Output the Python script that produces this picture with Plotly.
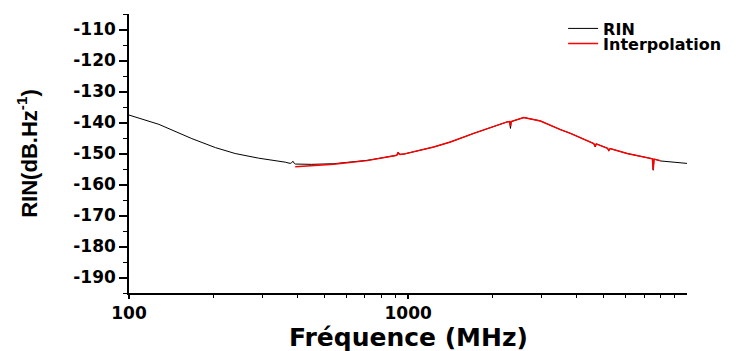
import plotly.graph_objects as go

# Measured RIN (black)
rin_freq = [100, 128, 168, 204, 240, 291, 363, 378, 383, 387, 391, 394, 450, 541, 713,
            888, 910, 920, 935, 964, 1235, 1417, 1718, 2263, 2310, 2326, 2340, 2596,
            2979, 3513, 3815, 4624, 4680, 4720, 5180, 5234, 5290, 6090, 7380, 7500,
            7550, 7600, 8017, 9670, 9990]
rin_val = [-137.6, -140.6, -145.2, -148.1, -150.0, -151.5, -152.8, -153.2, -152.9, -152.5,
           -153.2, -153.4, -153.5, -153.3, -152.2, -150.9, -150.6, -149.6, -150.3, -150.2,
           -147.9, -146.3, -143.5, -139.8, -139.7, -141.9, -139.7, -138.4, -139.5, -142.3,
           -143.5, -146.8, -147.9, -146.9, -148.3, -149.2, -148.4, -150.0, -151.6, -151.7,
           -155.4, -151.8, -152.4, -153.2, -153.2]

# Interpolation (red)
interp_freq = [394, 450, 541, 713, 888, 910, 920, 935, 964, 1235, 1417, 1718, 2263, 2310,
               2326, 2340, 2596, 2979, 3513, 3815, 4624, 4680, 4720, 5180, 5234, 5290,
               6090, 7380, 7500, 7550, 7600, 8017]
interp_val = [-154.3, -154.0, -153.5, -152.3, -150.9, -150.6, -149.8, -150.3, -150.2,
              -147.9, -146.3, -143.5, -139.8, -139.7, -141.2, -139.7, -138.4, -139.5,
              -142.3, -143.5, -146.8, -147.7, -146.9, -148.3, -149.0, -148.4, -150.0,
              -151.6, -151.7, -155.2, -151.8, -152.3]

x_major = [100, 1000]
x_minor = [200, 300, 400, 500, 600, 700, 800, 900,
           2000, 3000, 4000, 5000, 6000, 7000, 8000, 9000]
y_ticks = [-110, -120, -130, -140, -150, -160, -170, -180, -190]
x_title = "Fréquence (MHz)"
y_title = "RIN(dB.Hz<sup>-1</sup>)"

HFONT = "DejaVu Sans"

fig = go.Figure()
fig.add_trace(go.Scatter(x=rin_freq, y=rin_val, mode="lines", name="RIN",
                         line=dict(color="black", width=1), legend="legend"))
fig.add_trace(go.Scatter(x=interp_freq, y=interp_val, mode="lines", name="Interpolation",
                         line=dict(color="#ff0000", width=1.5), legend="legend2"))

legend_common = dict(font=dict(family=HFONT, size=16, color="black", weight="bold"),
                     bgcolor="rgba(0,0,0,0)", borderwidth=0,
                     xanchor="left", yanchor="middle", itemwidth=30)

fig.update_layout(
    width=741, height=343,
    margin=dict(l=121, r=62, t=6, b=58, autoexpand=False),
    paper_bgcolor="white", plot_bgcolor="white",
    showlegend=True,
    legend=dict(x=0.778, y=0.948, **legend_common),
    legend2=dict(x=0.778, y=0.894, **legend_common),
    xaxis=dict(
        type="log", range=[2, 3.999], automargin=False,
        tickmode="array", tickvals=x_major, ticktext=[str(v) for v in x_major],
        ticks="outside", ticklen=4, tickwidth=1.5, tickcolor="black",
        minor=dict(tickmode="array", tickvals=x_minor, ticks="outside",
                   ticklen=3, tickwidth=1, tickcolor="black", showgrid=False),
        showline=True, linecolor="black", linewidth=1.5,
        showgrid=False, zeroline=False,
        tickfont=dict(family=HFONT, size=17, color="black", weight="bold"),
    ),
    yaxis=dict(
        range=[-195, -105], automargin=False,
        tickmode="array", tickvals=y_ticks, ticktext=[str(v) for v in y_ticks],
        ticks="outside", ticklen=8, tickwidth=1.5, tickcolor="black",
        minor=dict(dtick=5, tick0=-105, ticks="outside", ticklen=4, tickwidth=1,
                   tickcolor="black", showgrid=False),
        showline=True, linecolor="black", linewidth=1.5,
        showgrid=False, zeroline=False,
        tickfont=dict(family=HFONT, size=17, color="black", weight="bold"),
        title=dict(text=y_title, standoff=30,
                   font=dict(family="Liberation Sans", size=22, color="black", weight="bold")),
    ),
    annotations=[dict(text=x_title, xref="paper", yref="paper", x=0.5, y=0,
                      xanchor="center", yanchor="middle", yshift=-44, showarrow=False,
                      font=dict(family=HFONT, size=25, color="black", weight="bold"))],
)

fig.write_html("out.html")
